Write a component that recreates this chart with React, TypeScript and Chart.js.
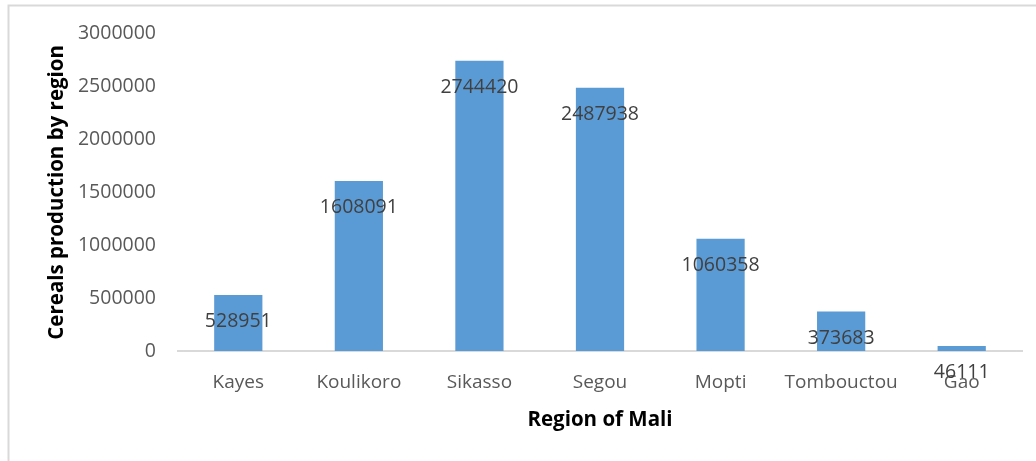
import React, { useEffect, useRef } from "react";
import { Chart, registerables } from "chart.js";

Chart.register(...registerables);

const categories = ["Kayes", "Koulikoro", "Sikasso", "Segou", "Mopti", "Tombouctou", "Gao"];
const production = [528951, 1608091, 2744420, 2487938, 1060358, 373683, 46111];
const yMin = 0;
const yMax = 3000000;
const yStep = 500000;

const FONT = "'Open Sans', sans-serif";

const framePlugin = {
  id: "frame",
  beforeDraw(chart: any) {
    const ctx = chart.ctx;
    ctx.save();
    ctx.strokeStyle = "#d9d9d9";
    ctx.lineWidth = 2;
    ctx.beginPath();
    ctx.moveTo(8.5, 461);
    ctx.lineTo(8.5, 5.5);
    ctx.lineTo(1036, 5.5);
    ctx.stroke();
    ctx.restore();
  },
};

const labelPlugin = {
  id: "barLabels",
  afterDatasetsDraw(chart: any) {
    const ctx = chart.ctx;
    const meta = chart.getDatasetMeta(0);
    const data = chart.data.datasets[0].data;
    ctx.save();
    ctx.font = `19.5px ${FONT}`;
    ctx.fillStyle = "#404040";
    ctx.textAlign = "center";
    ctx.textBaseline = "middle";
    meta.data.forEach((bar: any, i: number) => {
      ctx.fillText(String(data[i]), bar.x, bar.y + 26.5);
    });
    ctx.restore();
  },
};

export default function App() {
  const ref = useRef<HTMLCanvasElement>(null);
  useEffect(() => {
    if (!ref.current) return;
    const chart = new Chart(ref.current, {
      type: "bar",
      data: {
        labels: categories,
        datasets: [
          {
            data: production,
            backgroundColor: "#5b9bd5",
            borderWidth: 0,
            barPercentage: 0.4,
            categoryPercentage: 1,
          },
        ],
      },
      options: {
        responsive: false,
        animation: false,
        layout: { padding: { left: 0, right: 14, top: 33, bottom: 0 } },
        plugins: {
          legend: { display: false },
          tooltip: { enabled: false },
        },
        scales: {
          x: {
            grid: { display: true, color: "rgba(0,0,0,0)", drawTicks: false },
            border: { display: true, color: "#d9d9d9", width: 2 },
            ticks: {
              color: "#595959",
              font: { family: FONT, size: 19 },
              padding: 20,
              maxRotation: 0,
              autoSkip: false,
            },
            title: {
              display: true,
              text: "Region of Mali",
              color: "#000000",
              font: { family: FONT, size: 20.5, weight: "bold" },
              padding: { top: 0, bottom: 29 },
            },
            afterFit(scale: any) {
              scale.height = 110;
            },
          },
          y: {
            min: yMin,
            max: yMax,
            grid: { display: false, drawTicks: false },
            border: { display: false },
            ticks: {
              stepSize: yStep,
              color: "#595959",
              font: { family: FONT, size: 19.5 },
              padding: 22,
              callback: (v: any) => String(v),
            },
            title: {
              display: true,
              text: "Cereals production by region",
              color: "#000000",
              font: { family: FONT, size: 20.5, weight: "bold" },
              padding: { top: 44.5, bottom: 0 },
            },
            afterFit(scale: any) {
              scale.width = 178;
            },
          },
        },
      },
      plugins: [framePlugin, labelPlugin],
    });
    return () => chart.destroy();
  }, []);
  return (
    <div style={{ position: "fixed", left: 0, top: 0, width: 1036, height: 461, background: "#fff" }}>
      <canvas ref={ref} width={1036} height={461} style={{ width: 1036, height: 461 }} />
    </div>
  );
}
